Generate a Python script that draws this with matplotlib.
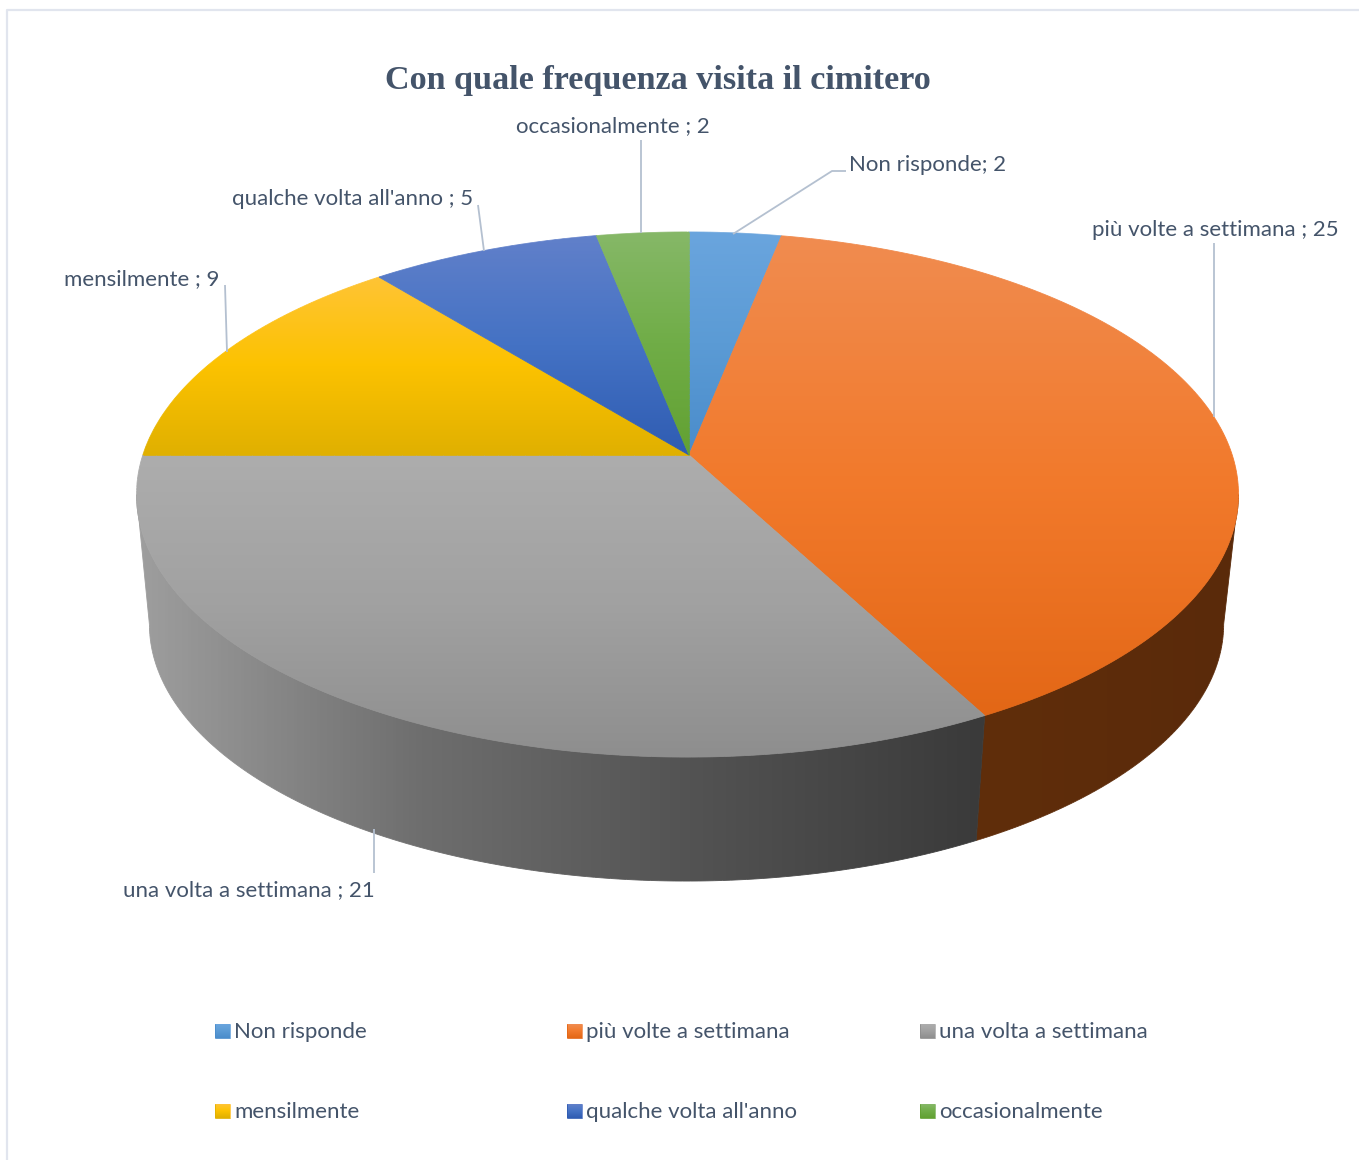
import numpy as np
import matplotlib
matplotlib.use('Agg')
import matplotlib.pyplot as plt
from matplotlib.colors import LinearSegmentedColormap
from matplotlib.collections import LineCollection
from matplotlib.patches import Polygon

# dati
categories = ['Non risponde', 'più volte a settimana', 'una volta a settimana',
              'mensilmente', "qualche volta all'anno", 'occasionalmente']
values = [2, 25, 21, 9, 5, 2]
label_seps = ['; ', ' ; ', ' ; ', ' ; ', ' ; ', ' ; ']
title = 'Con quale frequenza visita il cimitero'

# colori (sfumature dall'alto al basso)
top_colors = [['#6aa5de', '#5b9bd5', '#4a8ccb'],
              ['#f08c50', '#f27a2c', '#e36716'],
              ['#adadad', '#a1a1a1', '#8e8e8e'],
              ['#ffc435', '#fcc200', '#e0b000'],
              ['#6180ca', '#4472c4', '#2f5cb2'],
              ['#86b868', '#70ad47', '#62a132']]
side_colors = {1: ['#602e0b', '#5a2a0a'],
               2: ['#9e9e9e', '#6e6e6e', '#525252', '#3a3a3a']}
text_color = '#44546a'
line_color = '#b4c0d0'
border_color = '#e1e5ee'

# posizioni etichette (pixel)
label_pos = [(849, 165), (1092, 230), (123, 890), (64, 279), (232, 199), (516, 126)]
leaders = [[(733, 234), (832, 171), (846, 171)],
           [(1214, 243), (1214, 417)],
           [(374, 829), (374, 873)],
           [(225, 285), (227, 352)],
           [(478, 205), (484, 251)],
           [(641, 140), (641, 233)]]
legend_x = [215, 567, 920]
legend_y = [1031, 1111]

# geometria del disco in prospettiva
cx, cy = 689, 455
A, B, k, m = 544.7, 256.6, 0.1505, 0.0027
cx2, A2, B2, cy2 = 688, 531, 251, 585.6


def project(t, x0, a, b, c):
    t = np.radians(t)
    w = 1 + k * np.cos(t) + m * np.sin(t)
    return x0 + a * np.sin(t) / w, c - b * np.cos(t) / w


fig = plt.figure(figsize=(13.59, 11.6), dpi=100)
ax = fig.add_axes([0, 0, 1, 1])
ax.axis('off')


def grad_poly(xs, ys, stops, vertical=True, z=2, lim=None):
    cmap = LinearSegmentedColormap.from_list('g', stops)
    x0, x1, y0, y1 = xs.min(), xs.max(), ys.min(), ys.max()
    g = np.linspace(0, 1, 256)
    if vertical:
        grid, ext = g.reshape(-1, 1), (x0, x1, y1, y0)
        pos = (ys - y0) / max(y1 - y0, 1)
    else:
        lo, hi = lim
        grid, ext = g.reshape(1, -1), (lo, hi, y1, y0)
        pos = (xs - lo) / (hi - lo)
    im = ax.imshow(grid, cmap=cmap, vmin=0, vmax=1, extent=ext, aspect='auto',
                   origin='upper', interpolation='bilinear', zorder=z)
    im.set_clip_path(Polygon(np.c_[xs, ys], transform=ax.transData))
    # bordo sottile per ammorbidire il ritaglio
    pts = np.c_[xs, ys]
    segs = np.stack([pts, np.roll(pts, -1, axis=0)], axis=1)
    ax.add_collection(LineCollection(segs, colors=cmap(pos), linewidths=0.6, zorder=z))


edges = np.cumsum([0] + values) / sum(values) * 360
t_ext = np.degrees(np.arccos(-k))

# pareti laterali
for i, stops in side_colors.items():
    t0, t1 = max(edges[i], t_ext), min(edges[i + 1], 360 - t_ext)
    t = np.linspace(t0, t1, 150)
    xt, yt = project(t, cx, A, B, cy)
    xb, yb = project(t[::-1], cx2, A2, B2, cy2)
    xs, ys = np.r_[xt, xb], np.r_[yt, yb]
    lim = (137, 985) if i == 2 else (xs.min(), xs.max())
    grad_poly(xs, ys, stops, vertical=False, z=2, lim=lim)

# facce superiori
for i in range(len(values)):
    t = np.linspace(edges[i], edges[i + 1], 200)
    xa, ya = project(t, cx, A, B, cy)
    xs = np.r_[np.linspace(cx, xa[0], 40, endpoint=False), xa, np.linspace(xa[-1], cx, 40, endpoint=False)[1:]]
    ys = np.r_[np.linspace(cy, ya[0], 40, endpoint=False), ya, np.linspace(ya[-1], cy, 40, endpoint=False)[1:]]
    grad_poly(xs, ys, top_colors[i], z=3)

# linee guida
for pts in leaders:
    ax.plot(*zip(*pts), color=line_color, lw=1.3, zorder=5, solid_capstyle='butt')

# etichette
for i, name in enumerate(categories):
    ax.text(label_pos[i][0], label_pos[i][1], f'{name}{label_seps[i]}{values[i]}', color=text_color,
            fontsize=16, family='Lato', va='center', ha='left', zorder=6)

ax.text(658, 81, title, color=text_color, fontsize=24.6, family='Liberation Serif',
        fontweight='bold', va='center', ha='center', zorder=6)

# legenda
for i, name in enumerate(categories):
    lx = legend_x[i % 3]
    ly = legend_y[i // 3]
    sx = np.array([lx, lx + 15, lx + 15, lx], dtype=float)
    sy = np.array([ly - 7, ly - 7, ly + 7, ly + 7], dtype=float)
    grad_poly(sx, sy, top_colors[i], z=4)
    ax.text(lx + 19, ly + 1, name, color=text_color, fontsize=16, family='Lato',
            va='center', ha='left', zorder=6)

# cornice
ax.plot([7, 7, 1359], [1160, 10, 10], color=border_color, lw=1.6, zorder=1)

ax.set_xlim(0, 1359)
ax.set_ylim(1160, 0)
fig.savefig('out.png', dpi=100, facecolor='white')
